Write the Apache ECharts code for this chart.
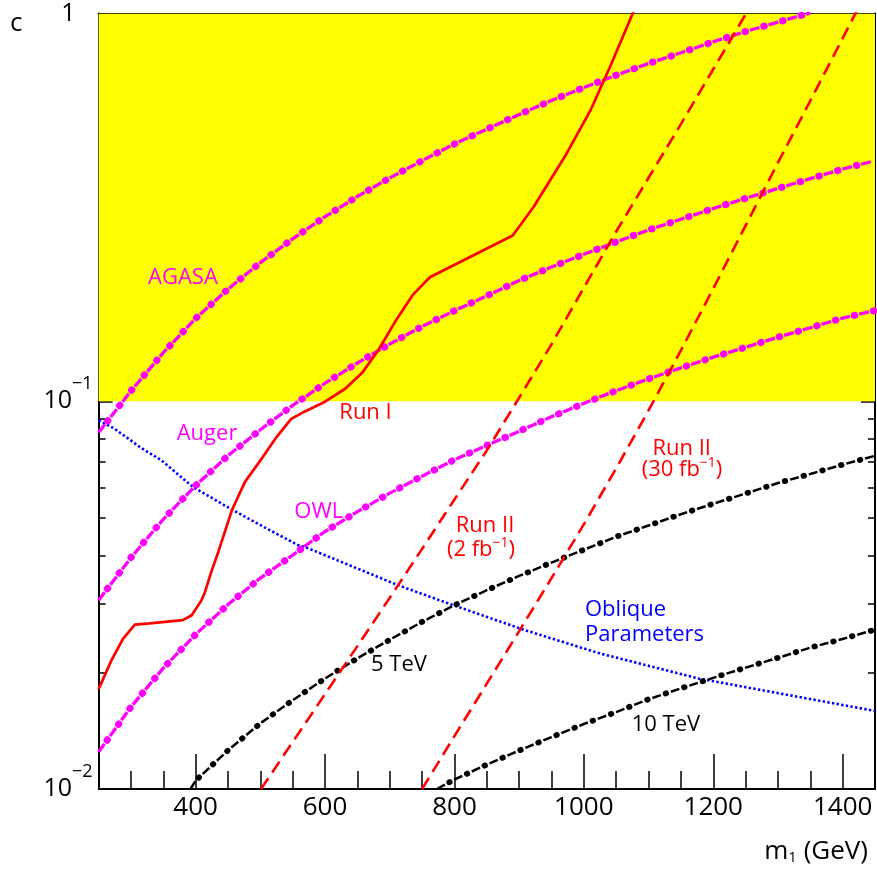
<!DOCTYPE html>
<html><head><meta charset="utf-8">
<script src="https://cdn.jsdelivr.net/npm/echarts@6/dist/echarts.min.js"></script>
<style>html,body{margin:0;padding:0;background:#fff}#c{width:877px;height:869px}</style>
</head><body><div id="c"></div>
<script>
// ---------- data ----------
const massGrid = [250,300,350,400,450,500,550,600,650,700,750,800,850,900,950,1000,1050,1100,1150,1200,1250,1300,1350,1400,1450];

const agasaMass = [250,300,350,400,450,500,550,600,650,700,750,800,850,900,950,1000,1050,1100,1150,1200,1250,1300,1350];
const agasaC    = [0.0831,0.1063,0.1334,0.1636,0.1946,0.2278,0.2624,0.2992,0.3373,0.3767,0.4173,0.4609,0.5032,0.5489,0.5964,0.6442,0.6932,0.7432,0.7920,0.8454,0.8987,0.9502,1.004];

const augerC = [0.03068,0.03951,0.04961,0.06064,0.07241,0.08445,0.09757,0.1113,0.1255,0.1405,0.1559,0.1712,0.1870,0.2048,0.2219,0.2393,0.2576,0.2765,0.2947,0.3142,0.3337,0.3540,0.3750,0.3971,0.4173];

const owlC = [0.01246,0.01628,0.02050,0.02505,0.02990,0.03500,0.04011,0.04615,0.05190,0.05795,0.06409,0.07066,0.07694,0.08364,0.09120,0.09874,0.1065,0.1142,0.1219,0.1299,0.1378,0.1463,0.1547,0.1639,0.1714];

const tev5Mass = [392,400,450,500,550,600,650,700,750,800,850,900,950,1000,1050,1100,1150,1200,1250,1300,1350,1400,1450];
const tev5C    = [0.0100,0.01051,0.01258,0.01477,0.01694,0.01928,0.02173,0.02427,0.02698,0.02979,0.03256,0.03544,0.03836,0.04140,0.04472,0.04781,0.05113,0.05441,0.05781,0.06152,0.06493,0.06862,0.07233];

const tev10Mass = [773,800,850,900,950,1000,1050,1100,1150,1200,1250,1300,1350,1400,1450];
const tev10C    = [0.0100,0.01058,0.01156,0.01257,0.01361,0.01471,0.01579,0.01704,0.01818,0.01935,0.02056,0.02179,0.02315,0.02438,0.02576];

const run2aMass = [501,550,600,650,700,750,800,850,900,950,1000,1050,1100,1150,1200,1250,1260];
const run2aC    = [0.0100,0.01322,0.01757,0.02336,0.03112,0.04162,0.05580,0.07468,0.1021,0.1402,0.1963,0.2740,0.3770,0.5183,0.7182,0.995,1.06];

const run2bMass = [750,800,850,900,950,1000,1050,1100,1150,1200,1250,1300,1350,1400,1430];
const run2bC    = [0.0100,0.01369,0.01869,0.02553,0.03497,0.04816,0.06714,0.09471,0.1352,0.1953,0.2838,0.4124,0.5957,0.8633,1.08];

const run1Mass = [250,270,288,306,329,380,394,409,414.5,424,435,456,476,502,525,548,564,600,631,657,682,708,736,762,890,922,973,1010,1040,1074,1078];
const run1C    = [0.0181,0.02149,0.02444,0.02653,0.02673,0.02725,0.02807,0.03068,0.03223,0.03622,0.04087,0.05234,0.06187,0.07112,0.08083,0.09016,0.09322,0.09973,0.1077,0.1182,0.1352,0.1600,0.1884,0.2089,0.2675,0.3164,0.4343,0.5614,0.7258,0.9865,1.02];

const obliqueMass = [250,273,296,314,347,396,458,510,561,569,713,798,909,1025,1177,1344,1450];
const obliqueC    = [0.08926,0.08527,0.08009,0.07617,0.07041,0.06008,0.05234,0.04693,0.04233,0.04209,0.03353,0.02979,0.02568,0.02236,0.01928,0.01713,0.01590];

const bandMass = [250,1450];
const bandTop = [1,1];
const bandBottom = 0.1;

const xTickRange = [250,1450];
const yTickRange = [0.01,1];

// ---------- chart ----------
const FONT = 'Open Sans';
const MAG = '#ff00ff', RED = '#ff0000', BLUE = '#0000ff', BLK = '#000000';
function pts(xs, ys){ return xs.map((x,i)=>[x, ys[i]]); }

function dashDot(name, xs, ys, color, w, dotW, dash, gap){
  const period = dash + gap;
  const dotPos = dash + gap/2;
  const off = (((0.25 - dotPos) % period) + period) % period;
  return [
    {type:'line', name:name, data:pts(xs,ys), symbol:'none', silent:true, z:3,
     lineStyle:{color:color, width:w, type:[dash,gap]}},
    {type:'line', name:name+' dots', data:pts(xs,ys), symbol:'none', silent:true, z:4,
     lineStyle:{color:color, width:dotW, type:[0.5, period-0.5], cap:'round', dashOffset:off}}
  ];
}

const tickStyle = {color:'#000', width:1.5};
const xCommon = {
  type:'value', min:xTickRange[0], max:xTickRange[1], splitNumber:6,
  splitLine:{show:false}, minorSplitLine:{show:false},
  axisLine:{show:true, onZero:false, lineStyle:{color:'#000', width:2}},
  axisTick:{show:true, inside:true, length:35, lineStyle:tickStyle},
  minorTick:{show:true, splitNumber:4, length:18, lineStyle:tickStyle}
};
const yCommon = {
  type:'log', logBase:10, min:yTickRange[0], max:yTickRange[1],
  splitLine:{show:false}, minorSplitLine:{show:false},
  axisLine:{show:true, onZero:false, lineStyle:{color:'#000', width:2}},
  axisTick:{show:true, inside:true, length:14, lineStyle:tickStyle},
  minorTick:{show:true, splitNumber:9, length:7, lineStyle:tickStyle}
};

const series = [
  {type:'line', name:'band', data:pts(bandMass, bandTop), symbol:'none', silent:true, z:1,
   lineStyle:{width:0, opacity:0}, areaStyle:{color:'#ffff00', opacity:1, origin:bandBottom}},
  {type:'line', name:'Oblique', data:pts(obliqueMass, obliqueC), symbol:'none', silent:true, z:2,
   lineStyle:{color:BLUE, width:2.6, type:[2.4,2.3]}},
  ...dashDot('5 TeV', tev5Mass, tev5C, BLK, 2.5, 5.8, 9, 10.5),
  ...dashDot('10 TeV', tev10Mass, tev10C, BLK, 2.5, 5.8, 9, 10.5),
  ...dashDot('AGASA', agasaMass, agasaC, MAG, 3.3, 7, 10, 9.5),
  ...dashDot('Auger', massGrid, augerC, MAG, 3.3, 7, 10, 9.5),
  ...dashDot('OWL', massGrid, owlC, MAG, 3.3, 7, 10, 9.5),
  {type:'line', name:'Run II 2', data:pts(run2aMass, run2aC), symbol:'none', silent:true, z:5,
   lineStyle:{color:RED, width:2.6, type:[13,7]}},
  {type:'line', name:'Run II 30', data:pts(run2bMass, run2bC), symbol:'none', silent:true, z:5,
   lineStyle:{color:RED, width:2.6, type:[13,7]}},
  {type:'line', name:'Run I', data:pts(run1Mass, run1C), symbol:'none', silent:true, z:5,
   lineStyle:{color:RED, width:2.7}}
];

function txt(x, y, text, color, align, rich){
  const st = {text:text, fill:color, fontSize:22, fontFamily:FONT, align:align||'left', verticalAlign:'middle'};
  if (rich) st.rich = rich;
  return {type:'text', x:x, y:y, silent:true, z:10, style:st};
}
const supRich = {s:{fontSize:14, fontFamily:FONT, padding:[0,0,13,0]}};

const option = {
  animation:false,
  backgroundColor:'#ffffff',
  textStyle:{fontFamily:FONT},
  grid:{left:98.6, right:2, top:13.5, bottom:80, containLabel:false, outerBoundsMode:'none'},
  xAxis:[
    Object.assign({}, xCommon, {position:'bottom',
      axisLabel:{show:true, margin:6, fontSize:26, fontFamily:FONT, color:'#000', showMinLabel:false, showMaxLabel:false,
        formatter:function(v){ return String(v); }}}),
    Object.assign({}, xCommon, {position:'top', axisLabel:{show:false}})
  ],
  yAxis:[
    Object.assign({}, yCommon, {position:'left',
      axisLabel:{show:true, margin:6, color:'#000',
        formatter:function(v){
          if (Math.abs(v-1) < 1e-9) return '{b|1}{sp| }';
          const e = Math.round(Math.log10(v));
          return '{b|10}{sup|\u2212' + (-e) + '}';
        },
        rich:{
          b:{fontSize:25, fontFamily:FONT, color:'#000'},
          sup:{fontSize:18, fontFamily:FONT, color:'#000', padding:[0,0,34,0]},
          sp:{fontSize:18, fontFamily:FONT, width:17}
        }}}),
    Object.assign({}, yCommon, {position:'right', axisLabel:{show:false}})
  ],
  series:series,
  graphic:[
    {type:'text', x:10, y:24, silent:true, style:{text:'c', fill:'#000', fontSize:26, fontFamily:FONT, align:'left', verticalAlign:'middle'}},
    {type:'text', x:868, y:852, silent:true, style:{text:'m{sub|1} (GeV)', fill:'#000', fontSize:26, fontFamily:FONT, align:'right', verticalAlign:'middle',
      rich:{sub:{fontSize:15, fontFamily:FONT, padding:[12,0,0,0]}}}},
    txt(148, 278, 'AGASA', MAG),
    txt(176.7, 433.3, 'Auger', MAG),
    txt(294.3, 511.7, 'OWL', MAG),
    txt(339.3, 412.3, 'Run I', RED),
    txt(485, 526, 'Run II', RED, 'center'),
    txt(481, 549.3, '(2 fb{s|\u22121})', RED, 'center', supRich),
    txt(681.7, 448.3, 'Run II', RED, 'center'),
    txt(682, 470, '(30 fb{s|\u22121})', RED, 'center', supRich),
    txt(585, 609.3, 'Oblique', BLUE),
    txt(585, 635, 'Parameters', BLUE),
    txt(371, 665, '5 TeV', BLK),
    txt(631.7, 725, '10 TeV', BLK)
  ]
};
const chart = echarts.init(document.getElementById('c'), null, {renderer:'canvas'});
chart.setOption(option);
</script>
</body></html>
